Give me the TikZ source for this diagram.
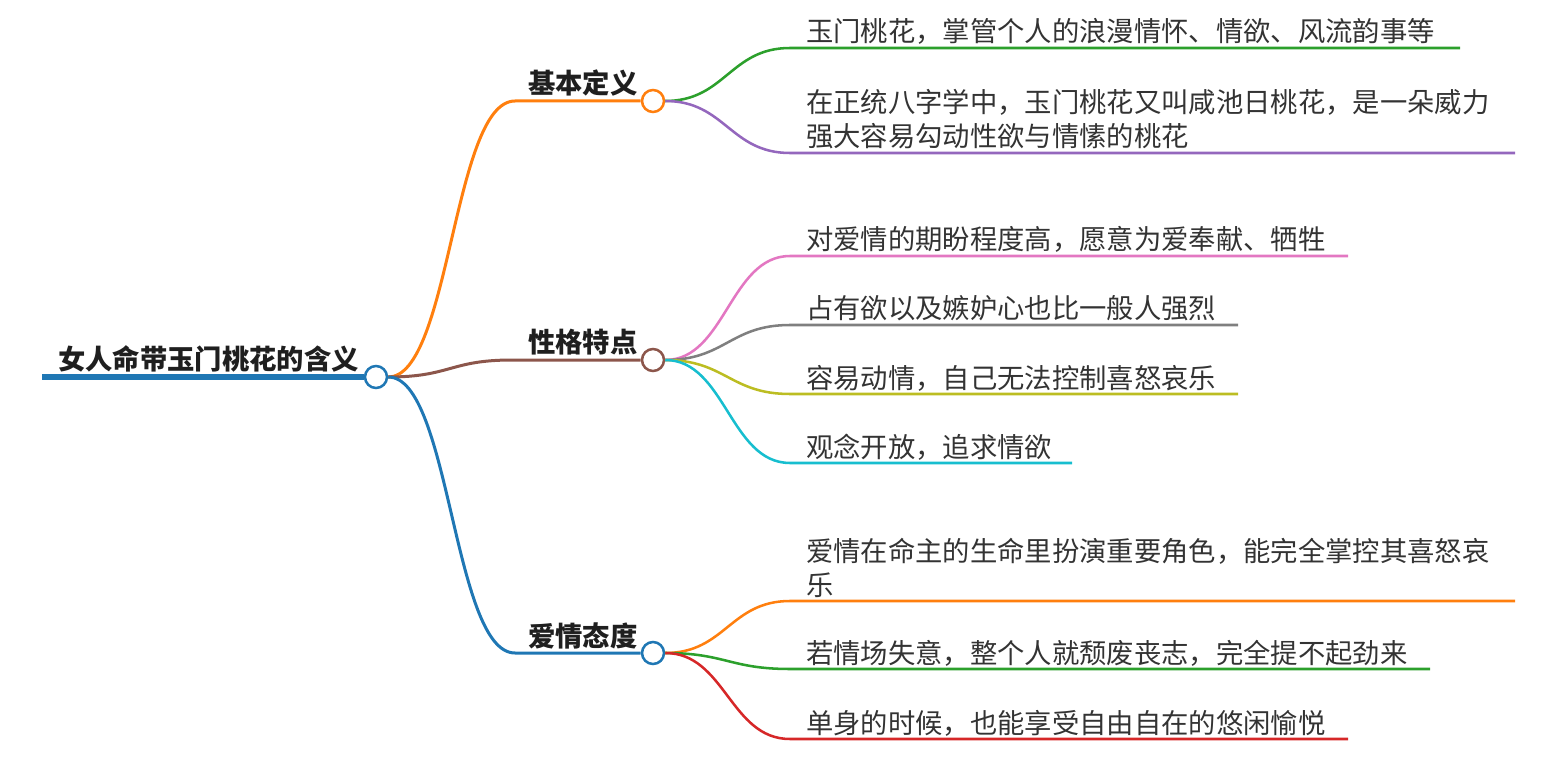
\documentclass[tikz,border=0pt]{standalone}
\usepackage{fontspec}
\setmainfont{Noto Sans CJK SC}
\usetikzlibrary{positioning}
\definecolor{cblue}{HTML}{1F77B4}
\definecolor{corange}{HTML}{FF7F0E}
\definecolor{cgreen}{HTML}{2CA02C}
\definecolor{cred}{HTML}{D62728}
\definecolor{cpurple}{HTML}{9467BD}
\definecolor{cbrown}{HTML}{8C564B}
\definecolor{cpink}{HTML}{E377C2}
\definecolor{cgray}{HTML}{7F7F7F}
\definecolor{colive}{HTML}{BCBD22}
\definecolor{ccyan}{HTML}{17BECF}
\definecolor{txt}{HTML}{333333}
\tikzset{
  dot/.style={circle,draw=#1,fill=white,line width=1.9pt,inner sep=0pt,minimum size=16.5pt},
  head/.style={anchor=base west,inner sep=0pt,text=black!88,font=\fontsize{20.5}{25.5}\selectfont\bfseries},
  leaf/.style={anchor=base west,inner sep=0pt,text=txt,align=left,font=\fontsize{20.5}{25.5}\selectfont},
  branch/.style={line width=2.25pt},
  twig/.style={line width=1.9pt}
}
\begin{document}
\begin{tikzpicture}[x=0.75pt,y=-0.75pt]
        \useasboundingbox (0,0) rectangle (1553,759);
        % root
        \coordinate (rs) at (42,377);
        \node[dot=cblue] (rdot) at (376,377) {};
        \node[head] (rt) at (58,369) {女人命带玉门桃花的含义};
        \draw[cblue,line width=4.5pt] (rs) -- (rdot.west);
        % main branches
        \coordinate (b1) at (515,101);
        \coordinate (b2) at (512,360);
        \coordinate (b3) at (515,653);
        \node[dot=corange] (d1) at (653,101) {};
        \node[dot=cbrown] (d2) at (653,360) {};
        \node[dot=cblue] (d3) at (653,653) {};
        \node[head] (h1) at (528,94) {基本定义};
        \node[head] (h2) at (528,353) {性格特点};
        \node[head] (h3) at (528,646) {爱情态度};
        \draw[corange,branch] (rdot.east) .. controls +(62,0) and +(-62,0) .. (b1) -- (d1.west);
        \draw[cbrown,branch] (rdot.east) .. controls +(62,0) and +(-62,0) .. (b2) -- (d2.west);
        \draw[cblue,branch] (rdot.east) .. controls +(62,0) and +(-62,0) .. (b3) -- (d3.west);
        % leaves of 基本定义
        \node[leaf] (l1) at (806,42) {玉门桃花，掌管个人的浪漫情怀、情欲、风流韵事等};
        \node[leaf] (l2) at (806,147) {在正统八字学中，玉门桃花又叫咸池日桃花，是一朵威力\\强大容易勾动性欲与情愫的桃花};
        \coordinate (l1a) at (790,48); \coordinate (l1b) at (1460,48);
        \coordinate (l2a) at (790,153); \coordinate (l2b) at (1515,153);
        \draw[cgreen,twig] (d1.east) .. controls +(60,0) and +(-60,0) .. (l1a) -- (l1b);
        \draw[cpurple,twig] (d1.east) .. controls +(60,0) and +(-60,0) .. (l2a) -- (l2b);
        % leaves of 性格特点
        \node[leaf] (l3) at (806,250) {对爱情的期盼程度高，愿意为爱奉献、牺牲};
        \node[leaf] (l4) at (806,319) {占有欲以及嫉妒心也比一般人强烈};
        \node[leaf] (l5) at (806,388) {容易动情，自己无法控制喜怒哀乐};
        \node[leaf] (l6) at (806,457) {观念开放，追求情欲};
        \coordinate (l3a) at (790,256); \coordinate (l3b) at (1348,256);
        \coordinate (l4a) at (790,325); \coordinate (l4b) at (1238,325);
        \coordinate (l5a) at (790,394); \coordinate (l5b) at (1238,394);
        \coordinate (l6a) at (790,463); \coordinate (l6b) at (1072,463);
        \draw[cpink,twig] (d2.east) .. controls +(60,0) and +(-60,0) .. (l3a) -- (l3b);
        \draw[cgray,twig] (d2.east) .. controls +(60,0) and +(-60,0) .. (l4a) -- (l4b);
        \draw[colive,twig] (d2.east) .. controls +(60,0) and +(-60,0) .. (l5a) -- (l5b);
        \draw[ccyan,twig] (d2.east) .. controls +(60,0) and +(-60,0) .. (l6a) -- (l6b);
        % leaves of 爱情态度
        \node[leaf] (l7) at (806,595) {爱情在命主的生命里扮演重要角色，能完全掌控其喜怒哀\\乐};
        \node[leaf] (l8) at (806,663) {若情场失意，整个人就颓废丧志，完全提不起劲来};
        \node[leaf] (l9) at (806,733) {单身的时候，也能享受自由自在的悠闲愉悦};
        \coordinate (l7a) at (790,601); \coordinate (l7b) at (1515,601);
        \coordinate (l8a) at (790,669); \coordinate (l8b) at (1430,669);
        \coordinate (l9a) at (790,739); \coordinate (l9b) at (1348,739);
        \draw[corange,twig] (d3.east) .. controls +(60,0) and +(-60,0) .. (l7a) -- (l7b);
        \draw[cgreen,twig] (d3.east) .. controls +(60,0) and +(-60,0) .. (l8a) -- (l8b);
        \draw[cred,twig] (d3.east) .. controls +(60,0) and +(-60,0) .. (l9a) -- (l9b);
        \end{tikzpicture}
\end{document}
